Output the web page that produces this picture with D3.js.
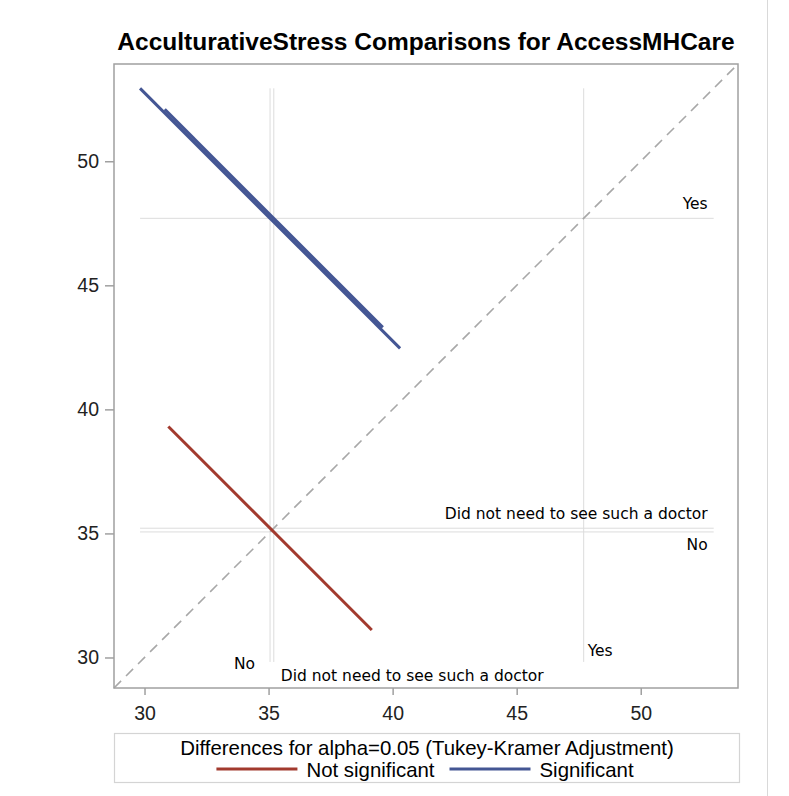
<!DOCTYPE html>
<html><head><meta charset="utf-8">
<script src="https://cdn.jsdelivr.net/npm/d3@7"></script>
<style>body{margin:0;background:#fff}</style>
</head><body>
<svg id="chart" width="789" height="796"></svg>
<script>
// LS-means of AcculturativeStress by AccessMHCare level
const levels = ["No", "Did not need to see such a doctor", "Yes"];
const lsMeans = [35.06, 35.21, 47.70];
// pairwise comparisons: level on x, level on y, CI half-width of the difference
const pairX = [0, 0, 1];
const pairY = [1, 2, 2];
const diffHalfWidth = [8.20, 10.48, 8.79];
const tickValues = [30, 35, 40, 45, 50];
const axisDomain = [28.77, 53.92];
const titleText = "AcculturativeStress Comparisons for AccessMHCare";
const legendTitle = "Differences for alpha=0.05 (Tukey-Kramer Adjustment)";
const legendLabels = ["Not significant", "Significant"];

const RED = "#A23A2E", BLUE = "#445694";
const AXIS = "#a0a0a0", REF = "#dcdcdc";
const box = {left: 114, right: 738, top: 64, bottom: 688};

const svg = d3.select("#chart");
const x = d3.scaleLinear().domain(axisDomain).range([box.left, box.right]);
const y = d3.scaleLinear().domain(axisDomain).range([box.bottom, box.top]);

// right edge rule of the image
svg.append("line").attr("x1", 767.5).attr("x2", 767.5).attr("y1", 0).attr("y2", 796)
  .attr("stroke", "#d9d9d9");

// title
svg.append("text").attr("x", (box.left + box.right) / 2).attr("y", 50)
  .attr("text-anchor", "middle")
  .style("font-family", "'Liberation Sans', Arial, sans-serif")
  .style("font-weight", "bold").style("font-size", "24.5px").attr("fill", "#000")
  .text(titleText);

// segments: centred on (mean_x, mean_y), slope -1, projected half-length = half CI width / 2
const segs = pairX.map((xi, i) => {
  const cx = lsMeans[xi], cy = lsMeans[pairY[i]], h = diffHalfWidth[i] / 2;
  const diff = Math.abs(cy - cx);
  return {x1: cx - h, y1: cy + h, x2: cx + h, y2: cy - h, sig: diff > diffHalfWidth[i]};
});
const lo = d3.min(segs, s => Math.min(s.x1, s.y2));
const hi = d3.max(segs, s => Math.max(s.x2, s.y1));

const g = svg.append("g");

// reference lines at each LS-mean
g.selectAll(".vref").data(lsMeans).join("line")
  .attr("x1", d => x(d)).attr("x2", d => x(d))
  .attr("y1", y(hi)).attr("y2", y(lo))
  .attr("stroke", REF).attr("stroke-width", 1);
g.selectAll(".href").data(lsMeans).join("line")
  .attr("y1", d => y(d)).attr("y2", d => y(d))
  .attr("x1", x(lo)).attr("x2", x(hi))
  .attr("stroke", REF).attr("stroke-width", 1);

// diagonal y = x
g.append("line")
  .attr("x1", x(axisDomain[0])).attr("y1", y(axisDomain[0]))
  .attr("x2", x(axisDomain[1])).attr("y2", y(axisDomain[1]))
  .attr("stroke", "#a8a8a8").attr("stroke-width", 1.6).attr("stroke-dasharray", "10,7");

// comparison segments
g.selectAll(".seg").data(segs).join("line")
  .attr("x1", d => x(d.x1)).attr("y1", d => y(d.y1))
  .attr("x2", d => x(d.x2)).attr("y2", d => y(d.y2))
  .attr("stroke", d => d.sig ? BLUE : RED).attr("stroke-width", 3);

// level labels
const labFont = "'DejaVu Sans', Verdana, sans-serif";
const labSize = "15.5px";
// along the right end of the horizontal rules
const hLabelDy = [18, -9, -9];
levels.forEach((lv, i) => {
  svg.append("text").attr("x", x(hi) - 6).attr("y", y(lsMeans[i]) + hLabelDy[i])
    .attr("text-anchor", "end").style("font-family", labFont).style("font-size", labSize)
    .attr("fill", "#000").text(lv);
});
// along the bottom of the vertical rules
const vLabel = [{dx: -15, y: 669, anchor: "end"}, {dx: 7, y: 681, anchor: "start"}, {dx: 4, y: 656, anchor: "start"}];
levels.forEach((lv, i) => {
  svg.append("text").attr("x", x(lsMeans[i]) + vLabel[i].dx).attr("y", vLabel[i].y)
    .attr("text-anchor", vLabel[i].anchor).style("font-family", labFont).style("font-size", labSize)
    .attr("fill", "#000").text(lv);
});

// frame
svg.append("rect").attr("x", box.left).attr("y", box.top)
  .attr("width", box.right - box.left).attr("height", box.bottom - box.top)
  .attr("fill", "none").attr("stroke", AXIS).attr("stroke-width", 1.5);

// axes
const tickFont = "'Liberation Sans', Arial, sans-serif";
const xAxis = svg.append("g").attr("transform", `translate(0,${box.bottom})`)
  .call(d3.axisBottom(x).tickValues(tickValues).tickSize(7).tickPadding(11));
const yAxis = svg.append("g").attr("transform", `translate(${box.left},0)`)
  .call(d3.axisLeft(y).tickValues(tickValues).tickSize(9).tickPadding(6));
[xAxis, yAxis].forEach(a => {
  a.select(".domain").remove();
  a.selectAll(".tick line").attr("stroke", AXIS).attr("stroke-width", 1.5);
  a.selectAll(".tick text").style("font-family", tickFont).style("font-size", "19.5px").attr("fill", "#222");
});

// legend
const lg = svg.append("g");
lg.append("rect").attr("x", 114.5).attr("y", 733.5).attr("width", 625).attr("height", 49)
  .attr("fill", "#fff").attr("stroke", "#d4d4d4").attr("stroke-width", 1.2);
lg.append("text").attr("x", 427).attr("y", 755).attr("text-anchor", "middle")
  .style("font-family", tickFont).style("font-size", "20.4px").attr("fill", "#000")
  .text(legendTitle);
const items = lg.append("g");
let cursor = 0;
const lineLen = 81, gapA = 9, gapB = 15;
legendLabels.forEach((lab, i) => {
  items.append("line").attr("x1", cursor).attr("x2", cursor + lineLen).attr("y1", 769).attr("y2", 769)
    .attr("stroke", i === 0 ? RED : BLUE).attr("stroke-width", 3);
  cursor += lineLen + gapA;
  const t = items.append("text").attr("x", cursor).attr("y", 776.5)
    .style("font-family", tickFont).style("font-size", "20.4px").attr("fill", "#000").text(lab);
  cursor += t.node().getComputedTextLength() + gapB;
});
cursor -= gapB;
items.attr("transform", `translate(${425 - cursor / 2},0)`);
</script>
</body></html>
